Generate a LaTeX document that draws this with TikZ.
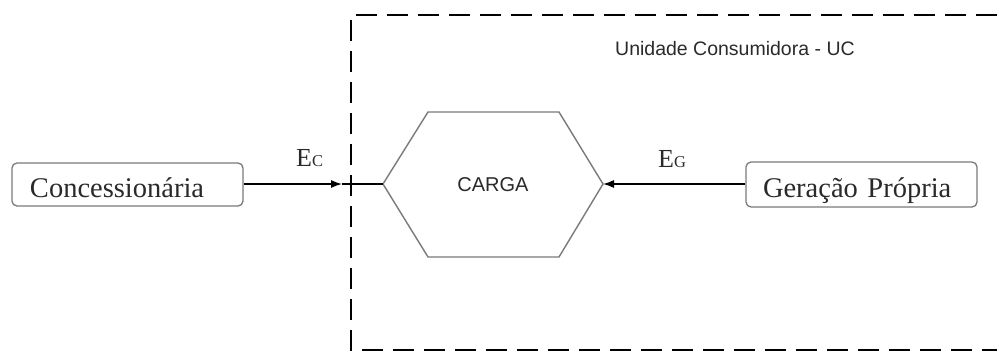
\documentclass[tikz,border=0pt]{standalone}
\usepackage{fontspec}
\setmainfont{Liberation Serif}
\newfontfamily\uisans{Liberation Sans}
\usetikzlibrary{arrows.meta}
\definecolor{frame}{HTML}{7A7A7A}
\definecolor{ink}{HTML}{2A2A2A}
\tikzset{
  x=1pt, y=-1pt,
  srcbox/.style={draw=frame, line width=1.3pt, rounded corners=5pt,
    minimum width=231pt, minimum height=43pt, inner ysep=0pt,
    align=left, text height=25pt, text depth=0pt,
    font=\fontsize{28.5}{31}\selectfont, text=ink},
  flow/.style={line width=1.3pt, draw=black},
  tip/.style={-{Latex[length=11pt,width=8pt]}},
  boundary/.style={line width=1.5pt, dash pattern=on 21pt off 10pt},
  quantity/.style={font=\fontsize{26}{28}\selectfont, text=ink, inner sep=0pt},
}
\newcommand{\smallidx}[1]{{\fontsize{16.5}{18}\selectfont #1}}
\begin{document}
\begin{tikzpicture}
\useasboundingbox (0,0) rectangle (997,354);

% consumer unit boundary (open on the right)
\draw[boundary] (997,15) -- (351,15) -- (351,350) -- (997,350);
\node[anchor=base west, inner sep=0pt, text=ink,
      font=\uisans\fontsize{19.5}{22}\selectfont] (uc) at (615,55.5) {Unidade Consumidora - UC};

% load hexagon
\coordinate (cargaW) at (383,184);
\coordinate (cargaE) at (603,184);
\draw[draw=frame, line width=1.4pt, fill=white]
  (cargaW) -- (428,112) -- (559,112) -- (cargaE) -- (559,257) -- (428,257) -- cycle;
\node[font=\uisans\fontsize{20}{22}\selectfont, text=ink, inner sep=0pt,
      text height=14pt, text depth=0pt] (carga) at (493,184) {CARGA};

% energy sources
\node[srcbox, inner xsep=18pt, text width=195pt] (conc) at (127.5,184.5) {Concessionária};
\node[srcbox, inner xsep=17pt, text width=197pt, minimum height=45pt] (ger) at (861.5,184.5) {Geração Própria};

% energy flows
\coordinate (cin) at (342,184);
\draw[flow, tip] (conc.east |- cin) -- (cin);
\draw[flow] (cin) -- (cargaW);
\draw[flow, tip] (ger.west |- cargaE) -- (cargaE);

\node[quantity, anchor=base west] (ec) at (296,166) {E\smallidx{C}};
\node[quantity, anchor=base west] (eg) at (658,167) {E\smallidx{G}};
\end{tikzpicture}
\end{document}
